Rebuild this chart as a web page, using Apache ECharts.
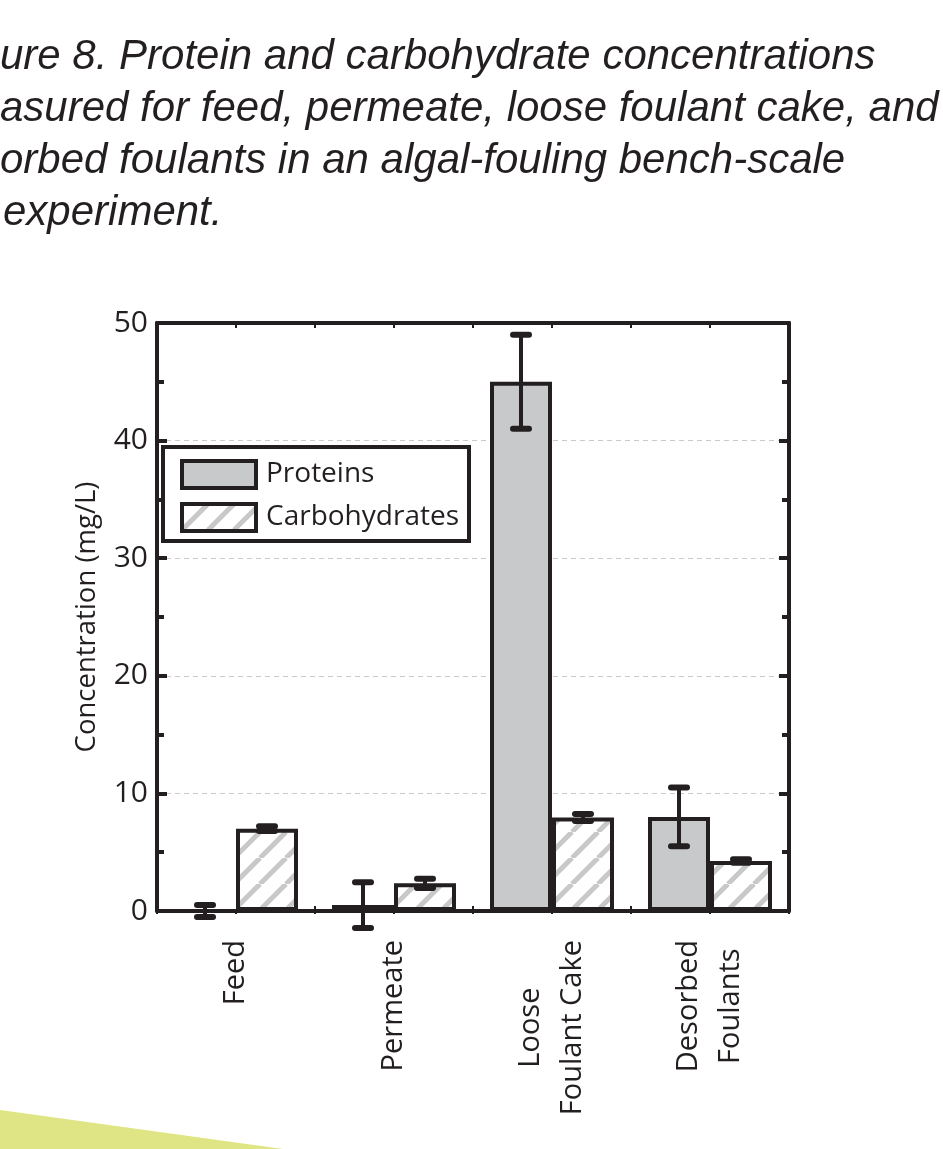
<!DOCTYPE html>
<html><head><meta charset="utf-8">
<script src="https://cdn.jsdelivr.net/npm/echarts@6/dist/echarts.min.js"></script>
<style>html,body{margin:0;padding:0;background:#fff}#c{width:943px;height:1149px}</style>
</head><body><div id="c"></div>
<script>
const categories = ['Feed', 'Permeate', 'Loose\nFoulant Cake', 'Desorbed\nFoulants'];
const proteins = [0, 0.5, 45, 8];
const proteinErr = [0.5, 1.95, 4, 2.5];
const carbohydrates = [7.0, 2.35, 7.95, 4.25];
const carbErr = [0.2, 0.4, 0.3, 0.15];
const seriesNames = ['Proteins', 'Carbohydrates'];
const yAxisName = 'Concentration (mg/L)';
const titleLines = [
  'ure 8. Protein and carbohydrate concentrations',
  'asured for feed, permeate, loose foulant cake, and',
  'orbed foulants in an algal-fouling bench-scale',
  'experiment.'
];

const INK = '#231f20';
const FONT = '"Open Sans", "Noto Sans", sans-serif';
const BAR_W = 62;

function hatch() {
  const s = 26, c = document.createElement('canvas');
  c.width = s; c.height = s;
  const g = c.getContext('2d');
  g.fillStyle = '#fff'; g.fillRect(0, 0, s, s);
  g.strokeStyle = '#c8c8c8'; g.lineWidth = 5;
  for (const o of [-s, 0, s]) { g.beginPath(); g.moveTo(o, s); g.lineTo(o + s, 0); g.stroke(); }
  return c;
}
const hatchFill = { image: hatch(), repeat: 'repeat' };

function errSeries(vals, errs, side) {
  return {
    type: 'custom', silent: true, z: 10,
    data: vals.map((v, i) => [i, v, errs[i]]),
    renderItem(params, api) {
      const i = api.value(0), v = api.value(1), e = api.value(2);
      const x = api.coord([i, v])[0] + side * BAR_W / 2;
      const top = api.coord([i, v + e])[1];
      const bot = api.coord([i, v - e])[1];
      const cw = 8;
      const st = { stroke: INK, lineWidth: 6, lineCap: 'round' };
      return { type: 'group', children: [
        { type: 'line', shape: { x1: x, y1: top, x2: x, y2: bot }, style: { stroke: INK, lineWidth: 4 } },
        { type: 'line', shape: { x1: x - cw, y1: top, x2: x + cw, y2: top }, style: st },
        { type: 'line', shape: { x1: x - cw, y1: bot, x2: x + cw, y2: bot }, style: st }
      ]};
    }
  };
}

const labelFmt = (val) => val.split('\n').map(s => '{c|' + s + '}').join('\n');

const chart = echarts.init(document.getElementById('c'), null, { renderer: 'canvas' });
chart.setOption({
  backgroundColor: '#fff',
  animation: false,
  grid: { left: 157, right: 154, top: 323, bottom: 238 },
  graphic: [
    ...titleLines.map((t, k) => ({
      type: 'text', x: k === 3 ? 3 : 0, y: 57 + k * 52,
      style: { text: t, fill: INK, fontSize: 42, fontStyle: 'italic', fontFamily: '"Liberation Sans", sans-serif', textVerticalAlign: 'middle' }
    })),
    { type: 'polygon', shape: { points: [[0, 1110], [283, 1149], [0, 1149]] }, style: { fill: '#dfe584' }, z: -1 }
  ],
  legend: {
    data: seriesNames, orient: 'vertical', left: 163, top: 447, icon: 'rect',
    backgroundColor: '#fff', borderColor: INK, borderWidth: 4, borderRadius: 0,
    padding: [12, 10, 8, 17], itemWidth: 74, itemHeight: 27, itemGap: 12,
    itemStyle: { borderWidth: 4, borderColor: INK },
    textStyle: { fontSize: 28, color: INK, fontFamily: FONT, padding: [0, 0, 0, 5] }
  },
  xAxis: [
    { type: 'category', data: categories, position: 'bottom',
      axisLine: { onZero: false, lineStyle: { color: INK, width: 4 } },
      axisTick: { show: true, inside: true, length: 5, lineStyle: { color: INK, width: 2 } },
      axisLabel: { rotate: 90, margin: 29, color: INK, fontSize: 29, fontFamily: FONT, lineHeight: 42,
        formatter: labelFmt, rich: { c: { align: 'center', fontSize: 29, fontFamily: FONT, color: INK, lineHeight: 42 } } },
      splitLine: { show: false } },
    { type: 'value', position: 'top', min: 0, max: 8, interval: 1,
      axisLine: { show: true, onZero: false, lineStyle: { color: INK, width: 4 } },
      axisTick: { show: true, inside: true, length: 5, lineStyle: { color: INK, width: 2 } },
      axisLabel: { show: false }, splitLine: { show: false } },
    { type: 'value', position: 'bottom', min: 0, max: 8, interval: 1,
      axisLine: { show: false, onZero: false },
      axisTick: { show: true, inside: false, length: 3, lineStyle: { color: INK, width: 2 } },
      axisLabel: { show: false }, splitLine: { show: false } }
  ],
  yAxis: [
    { type: 'value', min: 0, max: 50, interval: 10, position: 'left',
      name: yAxisName, nameLocation: 'middle', nameGap: 56,
      nameTextStyle: { fontSize: 27.5, color: INK, fontFamily: FONT },
      axisLine: { show: true, onZero: false, lineStyle: { color: INK, width: 4 } },
      axisTick: { show: true, inside: true, length: 10, lineStyle: { color: INK, width: 4 } },
      minorTick: { show: true, splitNumber: 2, length: 7, lineStyle: { color: INK, width: 4 } },
      axisLabel: { fontSize: 30, margin: 9, color: INK, fontFamily: FONT },
      splitLine: { show: true, lineStyle: { type: [5, 4], color: '#c9c9c9', width: 1 } } },
    { type: 'value', min: 0, max: 50, interval: 10, position: 'right',
      axisLine: { show: true, onZero: false, lineStyle: { color: INK, width: 4 } },
      axisTick: { show: true, inside: true, length: 10, lineStyle: { color: INK, width: 4 } },
      minorTick: { show: true, splitNumber: 2, length: 7, lineStyle: { color: INK, width: 4 } },
      axisLabel: { show: false }, splitLine: { show: false } }
  ],
  series: [
    { type: 'bar', name: seriesNames[0], data: proteins, barWidth: BAR_W, barGap: '0%',
      itemStyle: { color: '#c8c9ca', borderColor: INK, borderWidth: 4 } },
    { type: 'bar', name: seriesNames[1], data: carbohydrates, barWidth: BAR_W, barGap: '0%',
      itemStyle: { color: hatchFill, borderColor: INK, borderWidth: 4 } },
    errSeries(proteins, proteinErr, -1),
    errSeries(carbohydrates, carbErr, 1)
  ]
});
</script></body></html>
